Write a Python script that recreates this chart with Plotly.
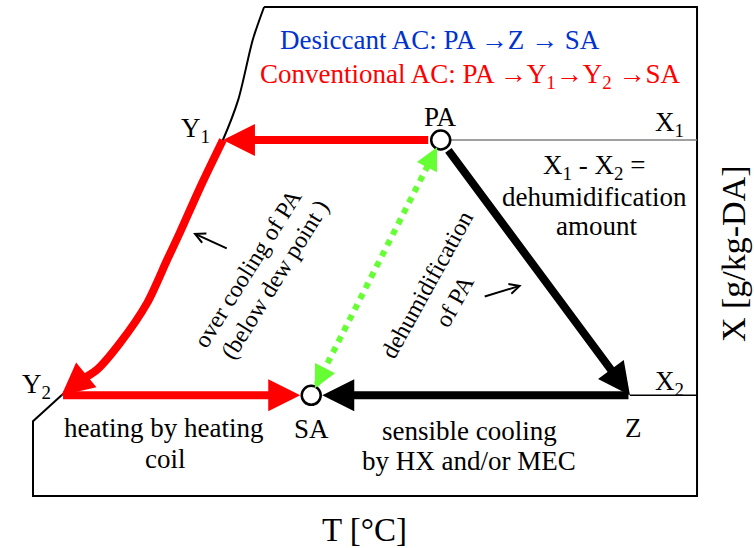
import plotly.graph_objects as go

# ---------------- data (schematic psychrometric chart, relative units) ----------------
state_names = ["PA", "Y1", "Y2", "SA", "Z"]
state_T = [61.4, 28.6, 4.3, 41.9, 89.9]      # dry-bulb temperature (relative)
state_X = [72.8, 72.8, 20.6, 20.6, 20.6]     # humidity ratio (relative)

# saturation curve (from top of chart down to Y2)
sat_T = [34.8, 33.1, 30.9, 28.6, 25.2, 22.1, 20.2, 17.2, 13.1, 9.6, 6.9, 4.3]
sat_X = [100.0, 93.3, 81.0, 72.8, 63.2, 53.8, 48.3, 39.5, 31.3, 25.8, 23.5, 20.6]

# chart frame corners (after the saturation curve top)
frame_T = [100.0, 100.0, 0.0, 0.0]
frame_X = [100.0, 0.0, 0.0, 15.3]

# pointer arrows (tail -> head)
ptr_tail_T = [29.4, 67.8]
ptr_tail_X = [50.5, 40.7]
ptr_head_T = [24.1, 73.6]
ptr_head_X = [53.8, 43.1]

P = {n: (t, x) for n, t, x in zip(state_names, state_T, state_X)}
X1 = P["PA"][1]
X2 = P["Z"][1]

RED = "#ff0000"
BLACK = "#000000"
GREEN = "#66ff33"
BLUE = "#0033cc"
FONT = "Liberation Serif"
FS = 27
FS_ROT = 24

fig = go.Figure()

# frame + saturation curve
iy1 = sat_T.index(P["Y1"][0])
fig.add_trace(go.Scatter(x=sat_T, y=sat_X, mode="lines",
                         line=dict(color=BLACK, width=2, shape="spline", smoothing=0.8),
                         hoverinfo="skip"))
fr_T = [sat_T[0]] + frame_T + [sat_T[-1]]
fr_X = [sat_X[0]] + frame_X + [sat_X[-1]]
fig.add_trace(go.Scatter(x=fr_T, y=fr_X, mode="lines",
                         line=dict(color=BLACK, width=2), hoverinfo="skip"))

# X1, X2 reference lines
fig.add_trace(go.Scatter(x=[P["PA"][0], 100.0], y=[X1, X1], mode="lines",
                         line=dict(color="#808080", width=1.5), hoverinfo="skip"))
fig.add_trace(go.Scatter(x=[P["Z"][0], 100.0], y=[X2, X2], mode="lines",
                         line=dict(color=BLACK, width=1.5), hoverinfo="skip"))

# over-cooling curve Y1 -> Y2 (red, along saturation curve)
fig.add_trace(go.Scatter(x=sat_T[iy1:-1], y=sat_X[iy1:-1], mode="lines",
                         line=dict(color=RED, width=8, shape="spline", smoothing=0.8),
                         hoverinfo="skip"))

# green dotted line SA <-> PA
fig.add_trace(go.Scatter(x=[P["SA"][0], P["PA"][0]], y=[P["SA"][1], P["PA"][1]],
                         mode="lines", line=dict(color=GREEN, width=6, dash="dot"),
                         hoverinfo="skip"))

# state point circles
fig.add_trace(go.Scatter(x=[P["PA"][0], P["SA"][0]], y=[P["PA"][1], P["SA"][1]],
                         mode="markers",
                         marker=dict(size=19, color="white", line=dict(color=BLACK, width=2.5)),
                         hoverinfo="skip"))

ann = []


def arrow(tip, tail, color, width=8, head=2, size=0.8, standoff=0, startstandoff=0):
    ann.append(dict(x=tip[0], y=tip[1], ax=tail[0], ay=tail[1], xref="x", yref="y",
                    axref="x", ayref="y", text="", showarrow=True, arrowhead=head,
                    arrowsize=size, arrowwidth=width, arrowcolor=color,
                    standoff=standoff, startstandoff=startstandoff))


R = 11
# conventional AC path (red)
arrow(P["Y1"], P["PA"], RED, startstandoff=R)
arrow(P["Y2"], (sat_T[-2], sat_X[-2]), RED)
arrow(P["SA"], P["Y2"], RED, standoff=R)
# desiccant AC path (black)
arrow(P["Z"], P["PA"], BLACK, startstandoff=R)
arrow(P["SA"], P["Z"], BLACK, standoff=R)
# green heads on both ends of the dotted line
dT = P["PA"][0] - P["SA"][0]
dX = P["PA"][1] - P["SA"][1]
arrow(P["SA"], (P["SA"][0] + 0.06 * dT, P["SA"][1] + 0.06 * dX), GREEN, width=5, size=0.9, standoff=R - 3)
arrow(P["PA"], (P["PA"][0] - 0.06 * dT, P["PA"][1] - 0.06 * dX), GREEN, width=5, size=0.9, standoff=R - 3)
# thin pointer arrows
for tt, tx, ht, hx in zip(ptr_tail_T, ptr_tail_X, ptr_head_T, ptr_head_X):
    arrow((ht, hx), (tt, tx), BLACK, width=2, head=5, size=1.0)


def label(x, y, text, color=BLACK, size=FS, angle=0):
    ann.append(dict(x=x, y=y, xref="x", yref="y", text=text, showarrow=False,
                    font=dict(family=FONT, size=size, color=color),
                    textangle=angle, xanchor="center", yanchor="middle"))


AR = "<b>\u2192</b>"
label(61.3, 93.3, "Desiccant AC: PA " + AR + "Z " + AR + " SA", color=BLUE)
label(65.8, 85.9, "Conventional AC: PA " + AR + "Y<sub>1</sub>" + AR + "Y<sub>2</sub> " + AR + "SA", color=RED)
label(61.4, 77.5, "PA")
label(24.4, 74.8, "Y<sub>1</sub>")
label(95.9, 76.1, "X<sub>1</sub>")
label(84.5, 67.3, "X<sub>1</sub> - X<sub>2</sub> =")
label(84.6, 61.1, "dehumidification")
label(84.8, 55.2, "amount")
label(95.9, 23.1, "X<sub>2</sub>")
label(90.5, 13.9, "Z")
label(41.9, 13.7, "SA")
label(0.6, 22.5, "Y<sub>2</sub>")
label(19.7, 13.9, "heating by heating")
label(19.9, 7.6, "coil")
label(65.7, 13.3, "sensible cooling")
label(65.7, 7.2, "by HX and/or MEC")
label(32.4, 46.6, "over cooling of PA", size=FS_ROT, angle=-58)
label(36.5, 44.3, "(below dew point )", size=FS_ROT, angle=-58)
label(59.3, 43.2, "dehumidification", size=FS_ROT, angle=-61)
label(63.5, 39.9, "of PA", size=FS_ROT, angle=-61)

# axis titles
ann.append(dict(x=0.483, y=0.033, xref="paper", yref="paper", text="T [\u00b0C]",
                showarrow=False, font=dict(family=FONT, size=33, color=BLACK),
                xanchor="center", yanchor="middle"))
ann.append(dict(x=0.972, y=0.538, xref="paper", yref="paper", text="X [g/kg-DA]",
                showarrow=False, font=dict(family=FONT, size=34, color=BLACK),
                textangle=-90, xanchor="center", yanchor="middle"))

fig.update_layout(
    width=754, height=548,
    margin=dict(l=0, r=0, t=0, b=0),
    paper_bgcolor="white", plot_bgcolor="white",
    showlegend=False,
    font=dict(family=FONT),
    xaxis=dict(range=[-4.97, 108.58], visible=False, fixedrange=True),
    yaxis=dict(range=[-10.63, 101.43], visible=False, fixedrange=True),
    annotations=ann,
)

fig.write_html("out.html", config={"displayModeBar": False})
